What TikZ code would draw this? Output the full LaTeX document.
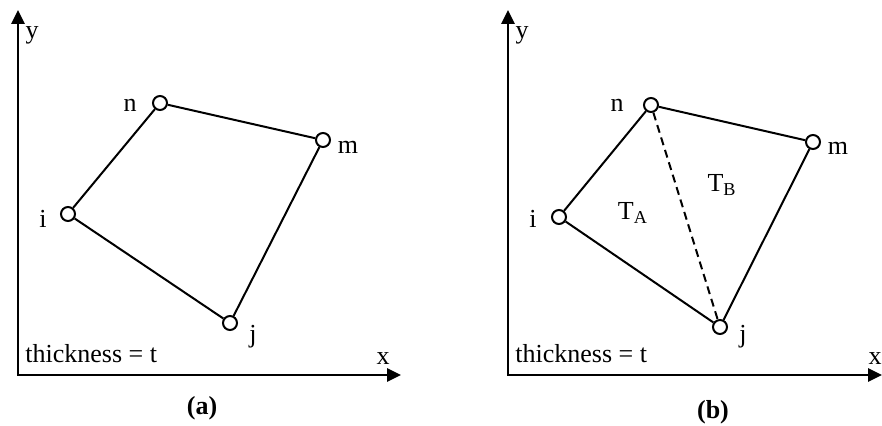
\documentclass[tikz,border=0pt]{standalone}
\usepackage{fontspec}
\setmainfont{Liberation Serif}
\usepackage{tikz}
\usetikzlibrary{
  positioning,
  arrows.meta
}
\tikzset{
  axis/.style={line width=1.4pt,
    {Triangle[length=7pt,width=6.5pt]}-{Triangle[length=7pt,width=6.5pt]}},
  knot/.style={circle,draw,fill=white,line width=1pt,
    minimum size=7pt,inner sep=0pt},
  side/.style={line width=1pt},
  lbl/.style={font=\fontsize{13}{15}\selectfont,inner sep=0pt}
}

\begin{document}
\begin{tikzpicture}[x=0.5pt,y=-0.5pt]
  \useasboundingbox (0,0) rectangle (882,426);

  % (a) 四节点单元
  \coordinate (Oa) at (18,375);
  \coordinate (Xa) at (401,375);
  \coordinate (Ya) at (18,10);
  \draw[axis] (Ya) -- (Oa) -- (Xa);
  \node[lbl] (xa) at (383,359) {x};
  \node[lbl] (ya) at (32,35) {y};
  \node[lbl,anchor=base west] (tha) at (25,363) {thickness = t};
  % 节点
  \node[knot] (ia) at (68,214) {};
  \node[knot] (ja) at (230,323) {};
  \node[knot] (ma) at (323,140) {};
  \node[knot] (na) at (160,103) {};
  \draw[side] (ia) -- (ja) -- (ma) -- (na) -- (ia);
  \node[lbl] (ila) at (43,219) {i};
  \node[lbl] (jla) at (253,337) {j};
  \node[lbl] (mla) at (348,147) {m};
  \node[lbl] (nla) at (130,105) {n};
  \node[lbl,font=\fontsize{13}{15}\selectfont\bfseries] (capa) at (202,408) {(a)};

  % (b) 分成两个三角形
  \coordinate (Ob) at (508,375);
  \coordinate (Xb) at (882,375);
  \coordinate (Yb) at (508,10);
  \draw[axis] (Yb) -- (Ob) -- (Xb);
  \node[lbl] (xb) at (875,359) {x};
  \node[lbl] (yb) at (522,35) {y};
  \node[lbl,anchor=base west] (thb) at (515,363) {thickness = t};
  % 节点
  \node[knot] (ib) at (559,217) {};
  \node[knot] (jb) at (720,327) {};
  \node[knot] (mb) at (813,142) {};
  \node[knot] (nb) at (651,105) {};
  \draw[side] (ib) -- (jb) -- (mb) -- (nb) -- (ib);
  \draw[side,dash pattern=on 4pt off 2.5pt] (nb) -- (jb);
  \node[lbl] (ilb) at (533,219) {i};
  \node[lbl] (jlb) at (743,337) {j};
  \node[lbl] (mlb) at (838,148) {m};
  \node[lbl] (nlb) at (617,105) {n};
  \node[lbl] (tA) at (633,213) {T\textsubscript{A}};
  \node[lbl] (tB) at (722,185) {T\textsubscript{B}};
  \node[lbl,font=\fontsize{13}{15}\selectfont\bfseries] (capb) at (713,412) {(b)};
\end{tikzpicture}
\end{document}
